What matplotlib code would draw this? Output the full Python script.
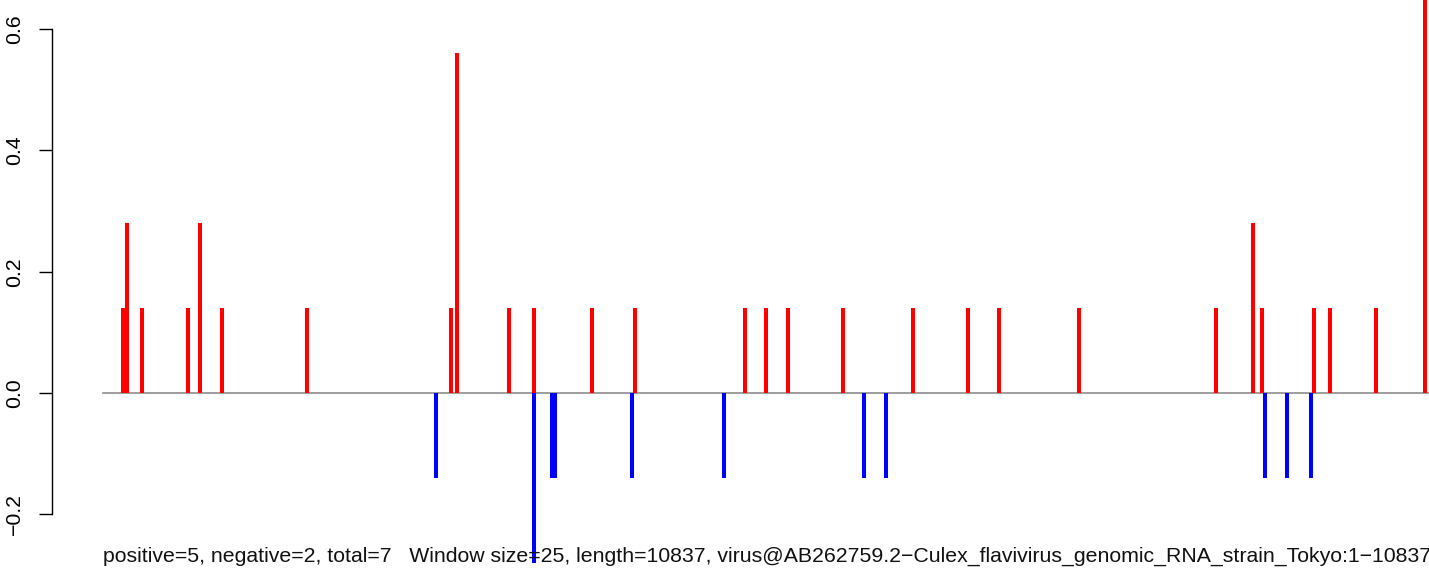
#!/usr/bin/env python3
"""Window score bars along the Culex flavivirus genome (R-style spike plot)"""
import matplotlib
matplotlib.use('Agg')
import matplotlib.pyplot as plt

plt.rcParams['font.family'] = ['Liberation Sans', 'DejaVu Sans']

GENOME_LEN = 10837

# positive windows (nt position, score)
pos_x = [163, 196, 319, 695, 793, 973, 1667, 2844, 2893, 3318, 3522, 3996,
         4348, 5247, 5419, 5598, 6048, 6620, 7069, 7323, 7977, 9096, 9399,
         9472, 9897, 10028, 10404, 10804]
pos_y = [0.14, 0.28, 0.14, 0.14, 0.28, 0.14, 0.14, 0.14, 0.56, 0.14, 0.14, 0.14,
         0.14, 0.14, 0.14, 0.14, 0.14, 0.14, 0.14, 0.14, 0.14, 0.14, 0.28,
         0.14, 0.14, 0.14, 0.14, 0.70]

# negative windows
neg_x = [2721, 3522, 3670, 3694, 4323, 5075, 6219, 6399, 9497, 9676, 9873]
neg_y = [-0.14, -0.28, -0.14, -0.14, -0.14, -0.14, -0.14, -0.14, -0.14, -0.14, -0.14]

yticks = [-0.2, 0.0, 0.2, 0.4, 0.6]

caption = ("positive=5, negative=2, total=7   Window size=25, length=10837, "
           "virus@AB262759.2\u2212Culex_flavivirus_genomic_RNA_strain_Tokyo:1\u221210837")

W, H = 1429, 571
fig = plt.figure(figsize=(W / 100, H / 100), dpi=100)
ax = fig.add_axes([52 / W, 0, 1 - 52 / W, 1])

# baseline
ax.plot([0, GENOME_LEN], [0, 0], color='#8c8c8c', linewidth=1.2, zorder=1)

ax.vlines(pos_x, 0, pos_y, color='red', linewidth=2.9, zorder=2)
ax.vlines(neg_x, 0, neg_y, color='blue', linewidth=2.9, zorder=2)

ax.set_xlim(-417, GENOME_LEN)
ax.set_ylim(-0.2935, 0.648)

for side in ['top', 'right', 'bottom']:
    ax.spines[side].set_visible(False)
ax.spines['left'].set_bounds(-0.2, 0.6)
ax.spines['left'].set_linewidth(1.0)
ax.set_xticks([])
ax.set_yticks(yticks)
ax.set_yticklabels([f'{v:.1f}'.replace('-', '\u2212') for v in yticks],
                   rotation=90, va='center', fontsize=15.3)
ax.tick_params(axis='y', direction='out', length=9.4, width=1.0, pad=10.5)
ax.patch.set_alpha(0)

fig.text(103 / W, 15 / H, caption, fontsize=15.3, ha='left', va='center',
         color='#111111')

plt.savefig('out.png', dpi=100)
